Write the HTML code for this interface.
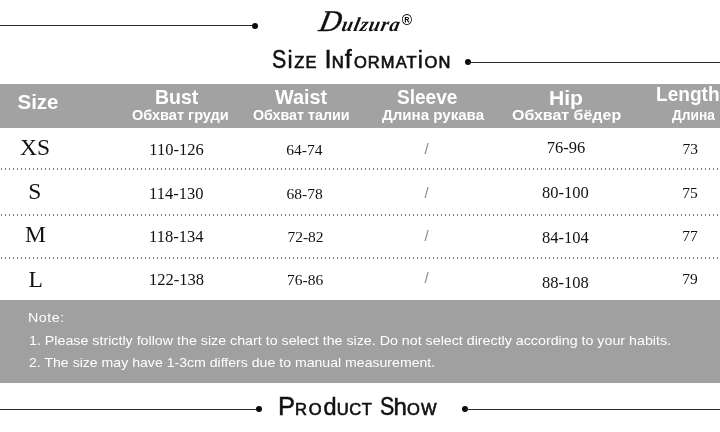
<!DOCTYPE html>
<html><head><meta charset="utf-8">
<style>
html,body{margin:0;padding:0;background:#fff;}
body{width:720px;height:432px;position:relative;overflow:hidden;font-family:"Liberation Sans",sans-serif;}
.abs{position:absolute;white-space:nowrap;}
.line{position:absolute;height:1px;background:#2a2a2a;}
.dot{position:absolute;width:6px;height:6px;border-radius:50%;background:#0a0a0a;}
.band{position:absolute;left:0;width:720px;background:#a2a2a2;}
.h1{position:absolute;color:#fff;font-weight:bold;font-size:20.5px;line-height:20px;white-space:nowrap;transform-origin:0 0;}
.h2{position:absolute;color:#fff;font-weight:bold;font-size:14px;line-height:14px;white-space:nowrap;transform-origin:0 0;}
.sz{position:absolute;font-family:"Liberation Serif",serif;font-size:23.5px;line-height:24px;color:#111;white-space:nowrap;}
.v{position:absolute;font-family:"Liberation Serif",serif;font-size:16.5px;line-height:16px;color:#111;white-space:nowrap;}
.v.s{font-size:15.5px;}
.sl{position:absolute;font-family:"Liberation Sans",sans-serif;font-size:15px;line-height:16px;color:#8a8a8a;}
.dl{position:absolute;left:0;width:720px;height:2px;background:repeating-linear-gradient(90deg,transparent 0,transparent 1px,#858585 1px,#858585 2.5px,transparent 2.5px,transparent 4px);}
.title{-webkit-text-stroke:0.45px #111;position:absolute;font-family:"Liberation Sans",sans-serif;color:#111;white-space:nowrap;font-size:25.5px;line-height:30px;}
.title .sm{-webkit-text-stroke:0.65px #111;font-size:16.5px;text-transform:uppercase;letter-spacing:1.1px;}
.title .lc{font-size:24px;letter-spacing:1px;-webkit-text-stroke:0.5px #111;}
.title .lc.i{font-size:23px;letter-spacing:1.6px;}
.title .lc.f{font-size:25px;letter-spacing:2.2px;}
.title .lc.h{letter-spacing:0.2px;}
.title .lc.d{letter-spacing:0.2px;font-size:23.5px;}
.title .bs{display:inline-block;transform:scaleX(0.84);transform-origin:0 50%;}
.note{position:absolute;color:#fff;font-size:13.2px;line-height:16px;white-space:nowrap;transform-origin:0 0;transform:scaleX(1.08);}
</style></head><body>
<!-- top -->
<div class="line" style="left:0;top:25px;width:255px;"></div>
<div class="dot" style="left:252px;top:22.5px;"></div>
<div class="abs" id="logo" style="left:317.5px;top:3.7px;font-family:'Liberation Serif',serif;font-style:italic;font-weight:bold;font-size:20px;line-height:34px;color:#111;letter-spacing:0.9px;transform:skewX(-12deg);transform-origin:0 27px;"><span style="font-size:30px;letter-spacing:1px;font-weight:normal;-webkit-text-stroke:0.4px #111;">D</span>ulzura</div>
<div class="abs" id="reg" style="left:401.7px;top:12px;font-size:14px;line-height:16px;color:#111;font-weight:bold;">®</div>
<div class="title" id="t1" style="left:270.5px;top:44px;"><span class="bs" style="margin-left:1px;margin-right:-1px">S</span><span class="lc i">i</span><span class="sm">ze</span> I<span class="sm">n</span><span class="lc f">f</span><span class="sm">ormat</span><span class="lc i">i</span><span class="sm">on</span></div>
<div class="dot" style="left:465px;top:59.3px;"></div>
<div class="line" style="left:468px;top:62px;width:252px;"></div>

<!-- header band -->
<div class="band" style="top:83.5px;height:44px;"></div>
<div class="h1" id="hSize" style="left:17.5px;top:92.3px;">Size</div>
<div class="h1" id="hBust" style="left:155.3px;top:87px;transform:scaleX(0.95);">Bust</div>
<div class="h2" id="rBust" style="left:132.3px;top:108px;transform:scaleX(1.04);">Обхват груди</div>
<div class="h1" id="hWaist" style="left:274.7px;top:87px;transform:scaleX(0.965);">Waist</div>
<div class="h2" id="rWaist" style="left:253.2px;top:108px;transform:scaleX(1.02);">Обхват талии</div>
<div class="h1" id="hSleeve" style="left:397px;top:87.3px;transform:scaleX(0.93);">Sleeve</div>
<div class="h2" id="rSleeve" style="left:382px;top:107.7px;font-size:14.5px;transform:scaleX(1.04);">Длина рукава</div>
<div class="h1" id="hHip" style="left:549px;top:87.5px;transform:scaleX(1.03);">Hip</div>
<div class="h2" id="rHip" style="left:512px;top:107.5px;font-size:15px;transform:scaleX(1.066);">Обхват бёдер</div>
<div class="h1" id="hLength" style="left:655.7px;top:84.4px;transform:scaleX(0.93);">Length</div>
<div class="h2" id="rLength" style="left:672px;top:108.4px;transform:scaleX(0.98);">Длина</div>

<!-- rows -->
<div class="sz" id="s1" style="left:20px;top:135.25px;">XS</div>
<div class="v" id="a1" style="left:149.3px;top:142px;">110-126</div>
<div class="v s" id="b1" style="left:286.3px;top:142.4px;">64-74</div>
<div class="sl" id="c1" style="left:424.5px;top:141.3px;">/</div>
<div class="v" id="d1" style="left:546.7px;top:139.7px;">76-96</div>
<div class="v s" id="e1" style="left:682.5px;top:141.3px;">73</div>
<div class="dl" style="top:168px;"></div>

<div class="sz" id="s2" style="left:28.2px;top:178.8px;">S</div>
<div class="v" id="a2" style="left:149px;top:185.5px;">114-130</div>
<div class="v s" id="b2" style="left:286.5px;top:186.1px;">68-78</div>
<div class="sl" id="c2" style="left:424.5px;top:184.7px;">/</div>
<div class="v" id="d2" style="left:542px;top:185px;">80-100</div>
<div class="v s" id="e2" style="left:682.3px;top:185px;">75</div>
<div class="dl" style="top:213.5px;"></div>

<div class="sz" id="s3" style="left:25px;top:222.15px;">M</div>
<div class="v" id="a3" style="left:149px;top:228.8px;">118-134</div>
<div class="v s" id="b3" style="left:287.4px;top:229.3px;">72-82</div>
<div class="sl" id="c3" style="left:424.5px;top:227.5px;">/</div>
<div class="v" id="d3" style="left:542px;top:230px;">84-104</div>
<div class="v s" id="e3" style="left:682.3px;top:228px;">77</div>
<div class="dl" style="top:257px;"></div>

<div class="sz" id="s4" style="left:28.6px;top:266.5px;">L</div>
<div class="v" id="a4" style="left:149px;top:271.6px;">122-138</div>
<div class="v s" id="b4" style="left:287px;top:272px;">76-86</div>
<div class="sl" id="c4" style="left:424.5px;top:270.25px;">/</div>
<div class="v" id="d4" style="left:542px;top:274.7px;">88-108</div>
<div class="v s" id="e4" style="left:682.3px;top:270.8px;">79</div>

<!-- note band -->
<div class="band" style="top:299.5px;height:83.5px;background:#a0a0a0;"></div>
<div class="note" id="n0" style="left:28.3px;top:309.7px;letter-spacing:0.5px;">Note:</div>
<div class="note" id="n1" style="left:29px;top:333px;">1. Please strictly follow the size chart to select the size. Do not select directly according to your habits.</div>
<div class="note" id="n2" style="left:29px;top:355.2px;transform:scaleX(1.069);">2. The size may have 1-3cm differs due to manual measurement.</div>

<!-- bottom -->
<div class="line" style="left:0;top:408.5px;width:258px;"></div>
<div class="dot" style="left:255.7px;top:406px;"></div>
<div class="title" id="t2" style="left:278px;top:391px;word-spacing:0.5px;">P<span class="sm" style="letter-spacing:1.8px">ro</span><span class="lc d">d</span><span class="sm" style="letter-spacing:0.6px">uct</span> <span class="bs" style="margin-right:-3.6px">S</span><span class="lc h">h</span><span class="sm">ow</span></div>
<div class="dot" style="left:461.7px;top:406px;"></div>
<div class="line" style="left:465px;top:408.5px;width:255px;"></div>
</body></html>
